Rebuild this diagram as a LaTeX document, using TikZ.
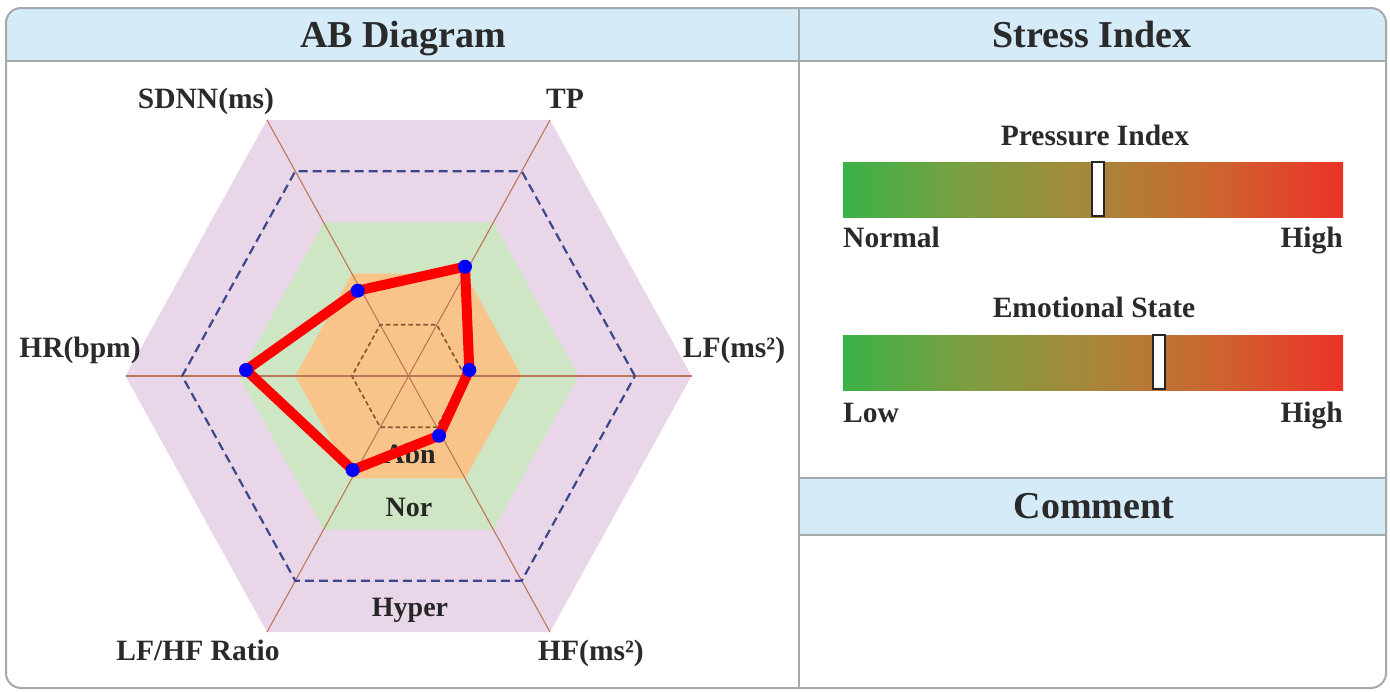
\documentclass[tikz,border=0pt]{standalone}
\usepackage{fontspec}
\setmainfont{Liberation Serif}
\definecolor{hdrblue}{RGB}{213,235,248}
\definecolor{framegray}{RGB}{162,170,174}
\definecolor{pinkz}{RGB}{233,215,233}
\definecolor{greenz}{RGB}{206,230,196}
\definecolor{orangez}{RGB}{249,196,138}
\definecolor{spokec}{RGB}{190,118,88}
\definecolor{dashblue}{RGB}{58,72,138}
\definecolor{dashbrown}{RGB}{136,88,50}
\definecolor{txt}{RGB}{42,42,42}
\definecolor{gA}{RGB}{58,178,72}
\definecolor{gB}{RGB}{125,158,65}
\definecolor{gC}{RGB}{168,134,58}
\definecolor{gD}{RGB}{205,100,48}
\definecolor{gE}{RGB}{236,50,38}
\pgfdeclarehorizontalshading{stressbar}{100bp}{color(0bp)=(gA); color(25bp)=(gA); color(37.5bp)=(gB); color(50bp)=(gC); color(62.5bp)=(gD); color(75bp)=(gE); color(100bp)=(gE)}
\newcommand{\hexa}[1]{\path[#1] (283,0) -- (141.5,-256) -- (-141.5,-256) -- (-283,0) -- (-141.5,256) -- (141.5,256) -- cycle;}
\tikzset{
  hdrtext/.style={font=\fontsize{38}{40}\selectfont\bfseries, text=txt, anchor=base, inner sep=0},
  lbltext/.style={font=\fontsize{29.5}{32}\selectfont\bfseries, text=txt, anchor=base, inner sep=0},
  zonetext/.style={font=\fontsize{28}{30}\selectfont\bfseries, text=black!85, anchor=base, inner sep=0},
  sepline/.style={draw=framegray, line width=1.6},
  spoke/.style={draw=spokec, line width=1.1},
  datadot/.style={circle, fill=blue, inner sep=0, minimum size=14},
  dataline/.style={draw=red, line width=10, line join=round},
  barmark/.style={draw=black!85, line width=1.6, fill=white},
}
\begin{document}
\begin{tikzpicture}[x=1pt, y=-1pt]
\useasboundingbox (0,0) rectangle (1390,691);
\fill[white] (0,0) rectangle (1390,691);
% header bands
\begin{scope}
  \clip[rounded corners=15] (6,8) rectangle (1386,688);
  \fill[hdrblue] (6,8) rectangle (1386,61);
  \fill[hdrblue] (799,478) rectangle (1386,535);
\end{scope}
\draw[sepline] (6,61) -- (1386,61);
\draw[sepline] (799,478) -- (1386,478);
\draw[sepline] (799,535) -- (1386,535);
\draw[sepline] (799,8) -- (799,688);
\draw[framegray, line width=2, rounded corners=15] (6,8) rectangle (1386,688);
\node[hdrtext] (tAB) at (403,47) {AB Diagram};
\node[hdrtext] (tSI) at (1092,47) {Stress Index};
\node[hdrtext] (tCM) at (1094,518) {Comment};
% radar zones
\begin{scope}[shift={(408.5,376)}]
  \hexa{fill=pinkz}
  \hexa{fill=greenz, scale=0.6}
  \hexa{fill=orangez, scale=0.4}
\end{scope}
\coordinate (O) at (408.5,376);
\coordinate (vR) at (691.5,376);
\coordinate (vL) at (125.5,376);
\coordinate (vTR) at (550,120);
\coordinate (vTL) at (267,120);
\coordinate (vBR) at (550,632);
\coordinate (vBL) at (267,632);
\draw[spoke] (vL) -- (vR);
\draw[spoke] (vTL) -- (vBR);
\draw[spoke] (vTR) -- (vBL);
\begin{scope}[shift={(408.5,376)}]
  \hexa{draw=dashblue, line width=2.2, dash pattern=on 9pt off 5pt, scale=0.8}
  \hexa{draw=dashbrown, line width=1.7, dash pattern=on 4.5pt off 3pt, scale=0.2}
\end{scope}
% axis labels
\node[lbltext] (lSD) at (206,108) {SDNN(ms)};
\node[lbltext] (lTP) at (565,108) {TP};
\node[lbltext] (lHR) at (80,357) {HR(bpm)};
\node[lbltext] (lLF) at (734,357) {LF(ms²)};
\node[lbltext] (lRA) at (198,660) {LF/HF Ratio};
\node[lbltext] (lHF) at (591,660) {HF(ms²)};
% zone labels
\node[zonetext] (zA) at (410,463) {Abn};
\node[zonetext] (zN) at (409,516) {Nor};
\node[zonetext] (zH) at (410,616) {Hyper};
% data polygon
\coordinate (pS) at (357.7,290.7);
\coordinate (pT) at (465,266.7);
\coordinate (pL) at (469.3,370);
\coordinate (pH) at (439,435.7);
\coordinate (pR) at (352.7,470);
\coordinate (pB) at (246,370);
\draw[dataline] (pS) -- (pT) -- (pL) -- (pH) -- (pR) -- (pB) -- cycle;
\node[datadot] (dS) at (pS) {};
\node[datadot] (dT) at (pT) {};
\node[datadot] (dL) at (pL) {};
\node[datadot] (dH) at (pH) {};
\node[datadot] (dR) at (pR) {};
\node[datadot] (dB) at (pB) {};
% stress bars
\node[lbltext] (tPI) at (1095,145) {Pressure Index};
\shade[shading=stressbar] (843,162) rectangle (1343,217);
\draw[barmark] (1092,162) rectangle (1104,216);
\node[lbltext, anchor=base west] (tNo) at (843,247) {Normal};
\node[lbltext, anchor=base east] (tH1) at (1343,247) {High};
\node[lbltext] (tES) at (1094,317) {Emotional State};
\shade[shading=stressbar] (843,335) rectangle (1343,390);
\draw[barmark] (1153,335) rectangle (1165,389);
\node[lbltext, anchor=base west] (tLo) at (843,422) {Low};
\node[lbltext, anchor=base east] (tH2) at (1343,422) {High};
\end{tikzpicture}
\end{document}
